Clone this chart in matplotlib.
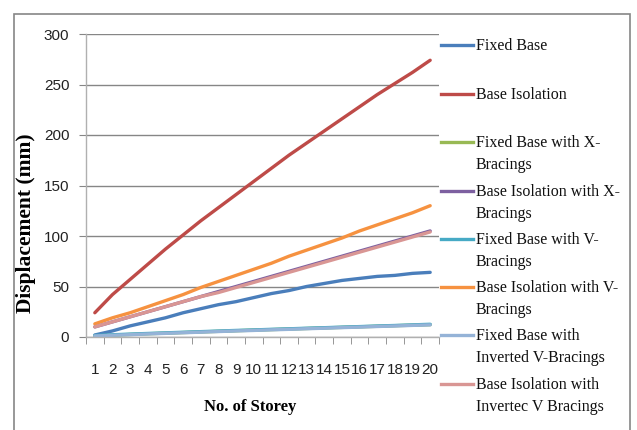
import matplotlib
matplotlib.use("Agg")
import matplotlib.pyplot as plt
from matplotlib.lines import Line2D
from matplotlib.patches import Rectangle
import numpy as np

storeys = list(range(1, 21))

fixed_base = [2, 6, 11, 15, 19, 24, 28, 32, 35, 39, 43, 46, 50, 53, 56, 58, 60, 61, 63, 64]
base_isolation = [24, 42, 57, 72, 87, 101, 115, 128, 141, 154, 167, 180, 192, 204, 216, 228, 240, 251, 262, 274]
fixed_x = [1, 1.8, 2.5, 3.2, 3.8, 4.4, 5, 5.6, 6.2, 6.8, 7.3, 7.9, 8.4, 9, 9.5, 10.1, 10.6, 11.2, 11.7, 12.2]
isolation_x = [10, 15, 20, 25, 30, 35, 40, 45, 50, 55, 60, 65, 70, 75, 80, 85, 90, 95, 100, 105]
fixed_v = [1.5, 2.2, 2.9, 3.5, 4.1, 4.7, 5.3, 5.9, 6.5, 7, 7.6, 8.1, 8.7, 9.2, 9.8, 10.3, 10.9, 11.4, 12, 12.6]
isolation_v = [13, 19, 24, 30, 36, 42, 49, 55, 61, 67, 73, 80, 86, 92, 98, 105, 111, 117, 123, 130]
fixed_inv_v = [1, 1.7, 2.3, 3, 3.6, 4.2, 4.8, 5.4, 6, 6.5, 7.1, 7.6, 8.2, 8.7, 9.3, 9.8, 10.4, 10.9, 11.5, 12]
isolation_inv_v = [10, 15, 20, 25, 30, 35, 40, 44, 49, 54, 59, 64, 69, 74, 79, 84, 89, 94, 99, 104]

series = [
    ("Fixed Base", fixed_base, "#4A7EBB"),
    ("Base Isolation", base_isolation, "#BE4B48"),
    ("Fixed Base with X-\nBracings", fixed_x, "#98B954"),
    ("Base Isolation with X-\nBracings", isolation_x, "#7D60A0"),
    ("Fixed Base with V-\nBracings", fixed_v, "#46AAC5"),
    ("Base Isolation with V-\nBracings", isolation_v, "#F69240"),
    ("Fixed Base with\nInverted V-Bracings", fixed_inv_v, "#95B3D7"),
    ("Base Isolation with\nInvertec V Bracings", isolation_inv_v, "#D99694"),
]

W, H = 637, 430
fig = plt.figure(figsize=(W / 100, H / 100), dpi=100)
ax = fig.add_axes([86 / W, 1 - 337 / H, (439 - 86) / W, (337 - 34) / H])

for label, vals, col in series:
    ax.plot(storeys, vals, color=col, lw=2.4, solid_capstyle="round")

grey = "#868686"
ax.set_xlim(0.5, 20.5)
ax.set_ylim(0, 300)
ax.set_yticks(np.arange(0, 301, 50))
ax.yaxis.grid(True, color=grey, lw=1)
ax.set_axisbelow(True)
for s in ("top", "right"):
    ax.spines[s].set_visible(False)
for s in ("left", "bottom"):
    ax.spines[s].set_color("#b0b0b0")
    ax.spines[s].set_linewidth(1)

ax.set_xticks(storeys)
ax.set_xticklabels([str(s) for s in storeys])
ax.set_xticks(np.arange(0.5, 21, 1), minor=True)
ax.tick_params(axis="x", which="major", length=0, pad=19)
ax.tick_params(axis="x", which="minor", length=5, color=grey, direction="out")
ax.tick_params(axis="y", length=5, color=grey, pad=7)
for t in ax.get_xticklabels() + ax.get_yticklabels():
    t.set_fontfamily("Liberation Sans")
    t.set_fontsize(11)
    t.set_color("#222222")

ax.set_ylabel("Displacement (mm)", family="Liberation Serif", fontsize=15.5, fontweight="bold")
ax.yaxis.set_label_coords(-0.142, 0.376)
ax.set_xlabel("No. of Storey", family="Liberation Serif", fontsize=12, fontweight="bold")
ax.xaxis.set_label_coords(0.465, -0.205)

# legend drawn by hand, entries evenly spaced like the original
ys = [45, 94, 142, 191, 239, 287, 335, 384]
for (label, vals, col), y in zip(series, ys):
    fig.add_artist(Line2D([441 / W, 473 / W], [1 - y / H, 1 - y / H], color=col, lw=2.4))
    for i, line in enumerate(label.split("\n")):
        fig.text(476 / W, 1 - (y + 5 + 22 * i) / H, line, family="Liberation Serif",
                 fontsize=11.5, va="baseline", ha="left", color="#111111")

fig.add_artist(Rectangle((14 / W, -0.02), (630 - 14) / W, 1 - 14 / H + 0.02,
                         transform=fig.transFigure, fill=False, edgecolor=grey, lw=1.2))

fig.savefig("out.png", dpi=100)
